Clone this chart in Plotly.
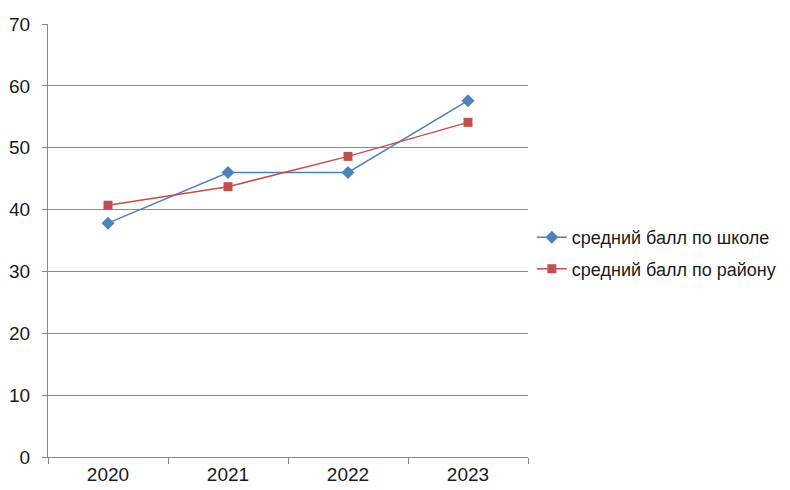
import plotly.graph_objects as go

years = ["2020", "2021", "2022", "2023"]
school = [37.8, 46.0, 46.0, 57.6]
district = [40.7, 43.7, 48.6, 54.1]
y_ticks = [0, 10, 20, 30, 40, 50, 60, 70]

fig = go.Figure()
fig.add_trace(go.Scatter(
    x=years, y=school, mode="lines+markers", name="средний балл по школе",
    legendgroup="a",
    line=dict(color="#4F81BD", width=1.5),
    marker=dict(symbol="diamond", size=10, color="#4F81BD"),
))
fig.add_trace(go.Scatter(
    x=years, y=district, mode="lines+markers", name="средний балл по району",
    legendgroup="b",
    line=dict(color="#C0504D", width=1.5),
    marker=dict(symbol="square", size=9, color="#C0504D"),
))

fig.update_layout(
    width=790, height=490,
    margin=dict(l=40, r=270, t=16, b=41, autoexpand=False),
    paper_bgcolor="white", plot_bgcolor="white",
    font=dict(family="Liberation Sans, Arial, sans-serif", size=19, color="#1a1a1a"),
    showlegend=True,
    legend=dict(x=1.008, xanchor="left", y=0.471, yanchor="middle",
                font=dict(size=18), tracegroupgap=5, itemwidth=30,
                bgcolor="rgba(0,0,0,0)"),
    xaxis=dict(
        type="category", showgrid=False, showline=True, linecolor="#888888", linewidth=1,
        ticks="outside", ticklen=6, tickcolor="#888888", tickson="boundaries",
        range=[-0.5, 3.5], tickfont=dict(size=19), zeroline=False, automargin=False,
    ),
    yaxis=dict(
        range=[0, 70], tickvals=y_ticks, showgrid=True, gridcolor="#8c8c8c", gridwidth=1,
        showline=True, linecolor="#888888", linewidth=1,
        ticks="outside", ticklen=5, tickcolor="#888888", zeroline=False,
        tickfont=dict(size=19), ticklabelstandoff=8, automargin=False,
    ),
)

fig.write_html("out.html")
